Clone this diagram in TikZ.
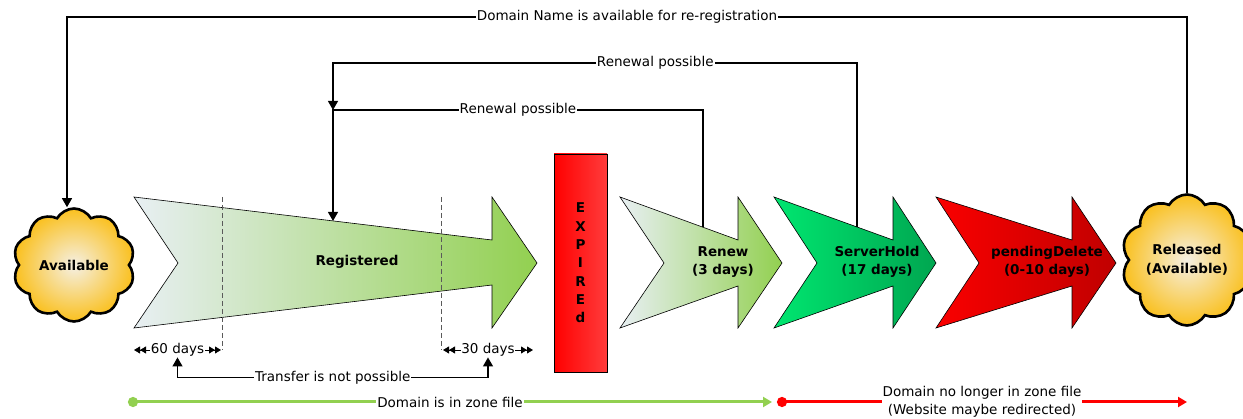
\documentclass[tikz,border=0pt]{standalone}
\usepackage{fontspec}
\setmainfont{DejaVu Sans}
\usetikzlibrary{arrows.meta,shapes.symbols,calc}
\definecolor{regL}{RGB}{232,239,243}
\definecolor{regR}{RGB}{146,208,80}
\definecolor{shL}{RGB}{0,230,112}
\definecolor{shR}{RGB}{0,166,80}
\definecolor{pdL}{RGB}{250,0,0}
\definecolor{pdR}{RGB}{192,0,0}
\definecolor{expL}{RGB}{255,0,0}
\definecolor{expR}{RGB}{255,60,60}
\definecolor{cloudIn}{RGB}{245,240,228}
\definecolor{cloudOut}{RGB}{250,192,30}
\definecolor{zoneG}{RGB}{146,208,80}
\definecolor{zoneR}{RGB}{255,0,0}
\definecolor{dashC}{RGB}{90,90,90}
\begin{document}
\begin{tikzpicture}[x=1pt,y=-1pt,
  every node/.style={font=\fontsize{13.5}{18.5}\selectfont},
  lbl/.style={fill=white,inner sep=1pt},
  conn/.style={line width=1.1pt,draw=black},
  arr/.style={conn,-{Triangle[length=9pt,width=10pt]}},
  shp/.style={draw=black,line width=0.6pt},
  boldtxt/.style={font=\fontsize{13.5}{18.5}\selectfont\bfseries,align=center},
  cloudy/.style={cloud,cloud puffs=10,cloud puff arc=120,draw=black,line width=2.6pt,
     inner color=cloudIn,outer color=cloudOut,align=center,inner sep=0pt,
     font=\fontsize{13.5}{18.5}\selectfont\bfseries},
  dimarr/.style={line width=0.8pt,
     {Triangle[length=6pt,width=7pt]Triangle[length=6pt,width=7pt]}-{Triangle[length=6pt,width=7pt]Triangle[length=6pt,width=7pt]}},
  zone/.style={line width=3pt,{Circle[length=10pt]}-{Triangle[length=9pt,width=10pt]}},
  dashln/.style={draw=dashC,line width=0.9pt,dash pattern=on 5pt off 3pt}
]
\useasboundingbox (0,0) rectangle (1243,419);

% arrow shapes
\shadedraw[shp,left color=regL,right color=regR]
  (134,197) -- (492,240) -- (492,197) -- (537,263) -- (492,328) -- (492,285)
  -- (134,328) -- (178,263) -- cycle;
\shadedraw[shp,left color=regL,right color=regR]
  (620,197) -- (738,240) -- (738,197) -- (782,263) -- (738,328) -- (738,286)
  -- (620,328) -- (664,263) -- cycle;
\shadedraw[shp,left color=shL,right color=shR]
  (774,197) -- (893,240) -- (893,197) -- (936,263) -- (893,328) -- (893,286)
  -- (774,328) -- (817,263) -- cycle;
\shadedraw[shp,left color=pdL,right color=pdR]
  (936,197) -- (1072,240) -- (1072,197) -- (1116,263) -- (1072,328) -- (1072,286)
  -- (936,328) -- (979,263) -- cycle;

% dashed markers
\draw[dashln] (222,197) -- (222,350);
\draw[dashln] (441,197) -- (441,350);

% text in arrows
\node[boldtxt] (regtxt) at (357,262) {Registered};
\node[boldtxt] (renewtxt) at (723,262) {Renew\\(3 days)};
\node[boldtxt] (shtxt) at (877,262) {ServerHold\\(17 days)};
\node[boldtxt] (pdtxt) at (1047,262) {pendingDelete\\(0-10 days)};

% expired box
\node[draw=black,line width=0.6pt,left color=expL,right color=expR,
      minimum width=53pt,minimum height=218pt,inner sep=0pt,align=center,
      font=\fontsize{13.5}{18.3}\selectfont\bfseries] (exp) at (580.5,263)
      {E\\X\\P\\I\\R\\E\\d};

% clouds
\node[cloudy,minimum width=122pt,minimum height=113pt] (avail) at (74,265) {Available};
\node[cloudy,minimum width=124pt,minimum height=100pt] (rel) at (1187,260) {Released\\(Available)};

% anchor coordinates on shape edges
\coordinate (regtop) at (333,221);
\coordinate (renewtop) at (703,227);
\coordinate (shtop) at (857,227);
\coordinate (tl) at (67,17);
\coordinate (tr) at (1187,17);
\coordinate (u1) at (857,63);
\coordinate (u2) at (333,63);
\coordinate (l1) at (703,110);
\coordinate (l2) at (333,110);

% top connectors
\draw[arr] (rel.north) -- (tr) -- node[lbl] {Domain Name is available for re-registration} (tl) -- (tl |- avail.north);
\draw[arr] (shtop) -- (u1) -- node[lbl,pos=0.385] {Renewal possible} (u2) -- (l2);
\draw[arr] (renewtop) -- (l1) -- node[lbl] {Renewal possible} (l2) -- (regtop);

% dimension lines
\coordinate (d60a) at (134,350);
\coordinate (d60b) at (221,350);
\coordinate (d30a) at (443,350);
\coordinate (d30b) at (533,350);
\draw[dimarr] (d60a) -- node[fill=white,inner sep=0.5pt] (d60) {60 days} (d60b);
\draw[dimarr] (d30a) -- node[fill=white,inner sep=0.5pt] (d30) {30 days} (d30b);

\draw[conn,{Triangle[length=9pt,width=10pt]}-{Triangle[length=9pt,width=10pt]}]
  (d60.south) -- ++(0,20) -| node[lbl,pos=0.25] {Transfer is not possible} (d30.south);

% zone lines
\coordinate (g1) at (128,402);
\coordinate (g2) at (772,402);
\coordinate (r1) at (777,402);
\coordinate (r2) at (1187,402);
\draw[zone,draw=zoneG,fill=zoneG] (g1) -- node[lbl] {Domain is in zone file} (g2);
\draw[zone,draw=zoneR,fill=zoneR] (r1) -- node[lbl,align=center,font=\fontsize{13.5}{18}\selectfont] {Domain no longer in zone file\\(Website maybe redirected)} (r2);
\end{tikzpicture}
\end{document}
